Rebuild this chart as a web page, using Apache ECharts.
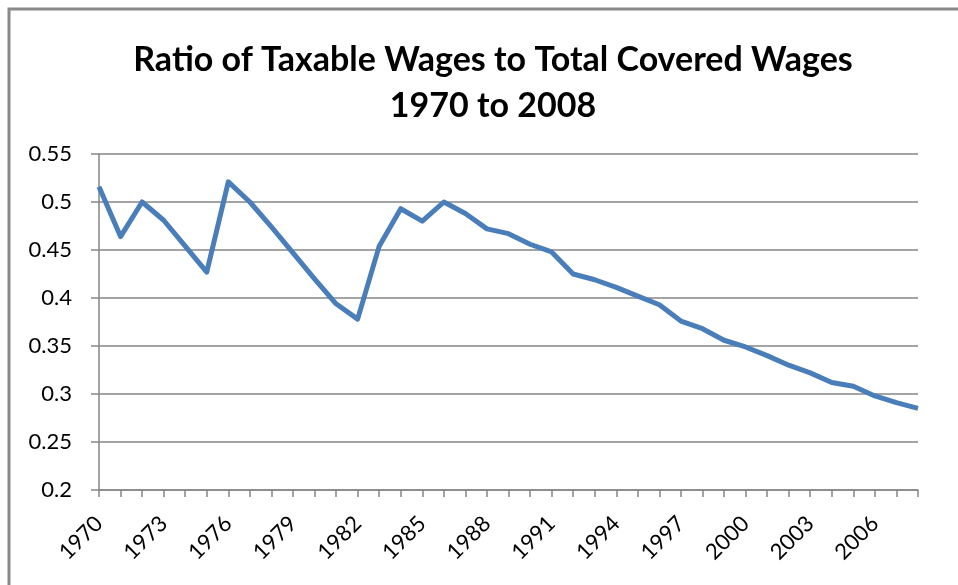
<!DOCTYPE html>
<html>
<head>
<meta charset="utf-8">
<script src="https://cdn.jsdelivr.net/npm/echarts@6/dist/echarts.min.js"></script>
<style>
  html, body { margin: 0; padding: 0; background: #fff; }
  #chart { width: 958px; height: 585px; }
</style>
</head>
<body>
<div id="chart"></div>
<script>
// Years 1970–2008
const years = [];
for (let y = 1970; y <= 2008; y++) years.push(String(y));

// Ratio of taxable wages to total covered wages, one value per year
const ratios = [
  0.516, 0.464, 0.500, 0.481, 0.454, 0.427, 0.521, 0.500, 0.474, 0.447,
  0.420, 0.394, 0.378, 0.454, 0.493, 0.480, 0.500, 0.488, 0.472, 0.467,
  0.456, 0.448, 0.425, 0.419, 0.411, 0.402, 0.393, 0.376, 0.368, 0.356,
  0.349, 0.340, 0.330, 0.322, 0.312, 0.308, 0.298, 0.291, 0.285
];

const titleLines = ['Ratio of Taxable Wages to Total Covered Wages', '1970 to 2008'];

const chart = echarts.init(document.getElementById('chart'), null, { renderer: 'canvas' });
const font = 'Lato, "Open Sans", sans-serif';

chart.setOption({
  animation: false,
  backgroundColor: '#fff',
  title: {
    text: titleLines.join('\n'),
    left: 488,
    textAlign: 'center',
    top: 32,
    textStyle: {
      fontFamily: font,
      fontWeight: 'bold',
      fontSize: 34,
      lineHeight: 46,
      color: '#000'
    }
  },
  graphic: [{
    type: 'polyline',
    shape: { points: [[9, 585], [9, 9], [958, 9]] },
    style: { stroke: '#898989', lineWidth: 3, fill: null },
    silent: true
  }],
  grid: { left: 99, right: 40, top: 154, bottom: 95 },
  xAxis: {
    type: 'category',
    data: years,
    boundaryGap: false,
    axisLine: { lineStyle: { color: '#868686', width: 1.5 } },
    axisTick: { show: true, interval: 0, length: 7, lineStyle: { color: '#868686', width: 1.5 } },
    axisLabel: {
      interval: 2,
      rotate: 45,
      margin: 30,
      fontFamily: font,
      fontSize: 22,
      color: '#000'
    },
    splitLine: { show: false }
  },
  yAxis: {
    type: 'value',
    min: 0.2,
    max: 0.55,
    interval: 0.05,
    axisLine: { show: true, lineStyle: { color: '#868686', width: 1.5 } },
    axisTick: { show: true, length: 8, lineStyle: { color: '#868686', width: 1.5 } },
    axisLabel: {
      margin: 27,
      fontFamily: font,
      fontSize: 22,
      color: '#000',
      formatter: v => String(Math.round(v * 100) / 100)
    },
    splitLine: { lineStyle: { color: '#868686', width: 1.5 } }
  },
  series: [{
    type: 'line',
    data: ratios,
    symbol: 'none',
    lineStyle: { color: '#4A7EBB', width: 5, join: 'round' }
  }]
});
</script>
</body>
</html>
